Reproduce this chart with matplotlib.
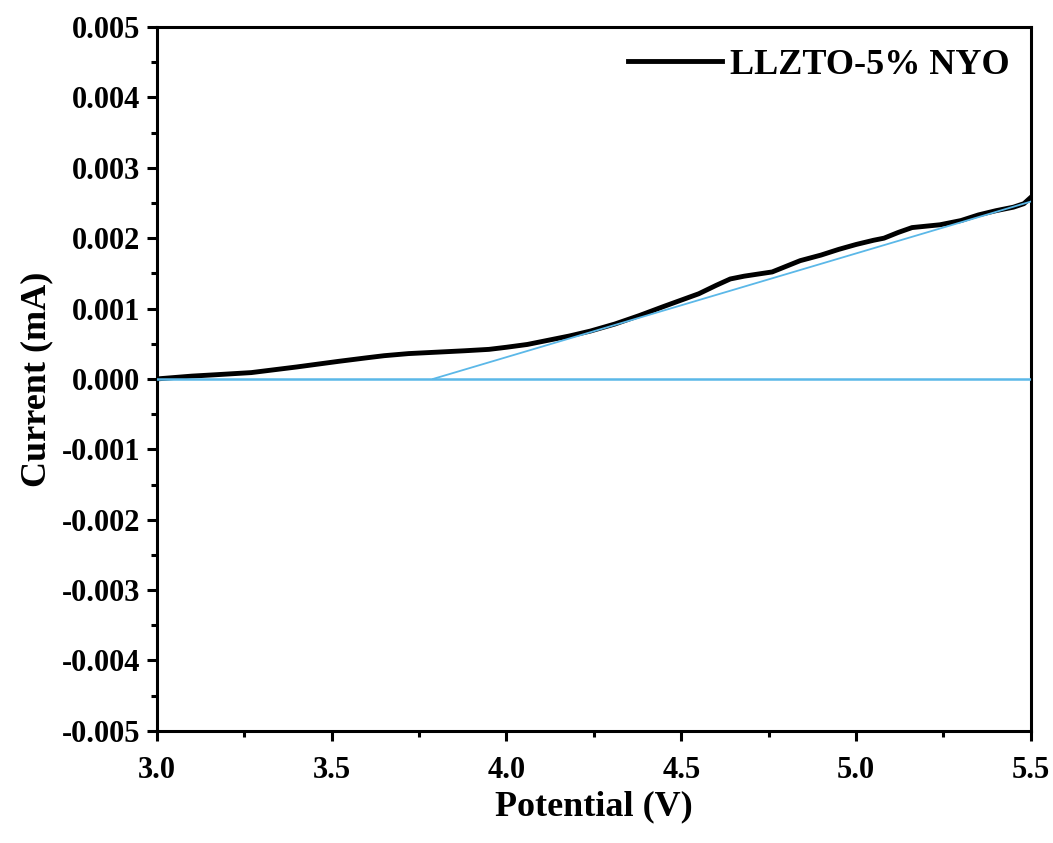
import numpy as np
import matplotlib.pyplot as plt
from matplotlib.ticker import MultipleLocator, FormatStrFormatter

plt.rcParams['font.family'] = ['Liberation Serif', 'DejaVu Serif']
plt.rcParams['font.weight'] = 'bold'

# LSV curve (V, mA)
potential = [3.00, 3.05, 3.10, 3.17, 3.27, 3.40, 3.46, 3.52, 3.60, 3.65, 3.72,
             3.80, 3.88, 3.95, 4.00, 4.06, 4.12, 4.18, 4.24, 4.31, 4.38, 4.45,
             4.50, 4.55, 4.60, 4.64, 4.68, 4.72, 4.76, 4.80, 4.84, 4.90, 4.95,
             5.00, 5.05, 5.08, 5.12, 5.16, 5.20, 5.24, 5.30, 5.35, 5.40, 5.45,
             5.48, 5.50]
current = [0.00000, 0.00002, 0.00004, 0.00006, 0.00009, 0.00017, 0.00021, 0.00025,
           0.00030, 0.00033, 0.00036, 0.00038, 0.00040, 0.00042, 0.00045, 0.00049,
           0.00055, 0.00061, 0.00068, 0.00078, 0.00090, 0.00103, 0.00112, 0.00121,
           0.00133, 0.00142, 0.00146, 0.00149, 0.00152, 0.00160, 0.00168, 0.00176,
           0.00184, 0.00191, 0.00197, 0.00200, 0.00208, 0.00215, 0.00217, 0.00219,
           0.00225, 0.00233, 0.00239, 0.00244, 0.00249, 0.00258]

# baseline and tangent lines (onset ~3.8 V)
base_x = [3.0, 5.5]
base_y = [0.0, 0.0]
tan_x = [3.79, 5.5]
tan_y = [0.0, 0.00252]

fig = plt.figure(figsize=(10.53, 8.43), dpi=100)
ax = fig.add_axes([0.149, 0.133, 0.830, 0.835])

ax.plot(potential, current, color='black', lw=3.5, label='LLZTO-5% NYO', zorder=3)
ax.plot(base_x, base_y, color='#5bb8e8', lw=1.8, zorder=4)
ax.plot(tan_x, tan_y, color='#5bb8e8', lw=1.3, zorder=4)

ax.set_xlim(3.0, 5.5)
ax.set_ylim(-0.005, 0.005)
ax.xaxis.set_major_locator(MultipleLocator(0.5))
ax.xaxis.set_minor_locator(MultipleLocator(0.25))
ax.yaxis.set_major_locator(MultipleLocator(0.001))
ax.yaxis.set_minor_locator(MultipleLocator(0.0005))
ax.xaxis.set_major_formatter(FormatStrFormatter('%.1f'))
ax.yaxis.set_major_formatter(FormatStrFormatter('%.3f'))

for s in ax.spines.values():
    s.set_linewidth(2.2)
ax.tick_params(which='major', direction='out', length=7, width=2.2, labelsize=22)
ax.tick_params(axis='x', which='major', pad=11)
ax.tick_params(axis='y', which='major', pad=5)
ax.tick_params(which='minor', direction='out', length=4, width=2.2)

ax.set_xlabel('Potential (V)', fontsize=26, fontweight='bold', labelpad=4)
ax.set_ylabel('Current (mA)', fontsize=26, fontweight='bold', labelpad=6)

ax.legend(loc='upper right', frameon=False, fontsize=26, handlelength=2.6,
          handletextpad=0.2, borderaxespad=0.2)

plt.savefig('out.png', dpi=100)
